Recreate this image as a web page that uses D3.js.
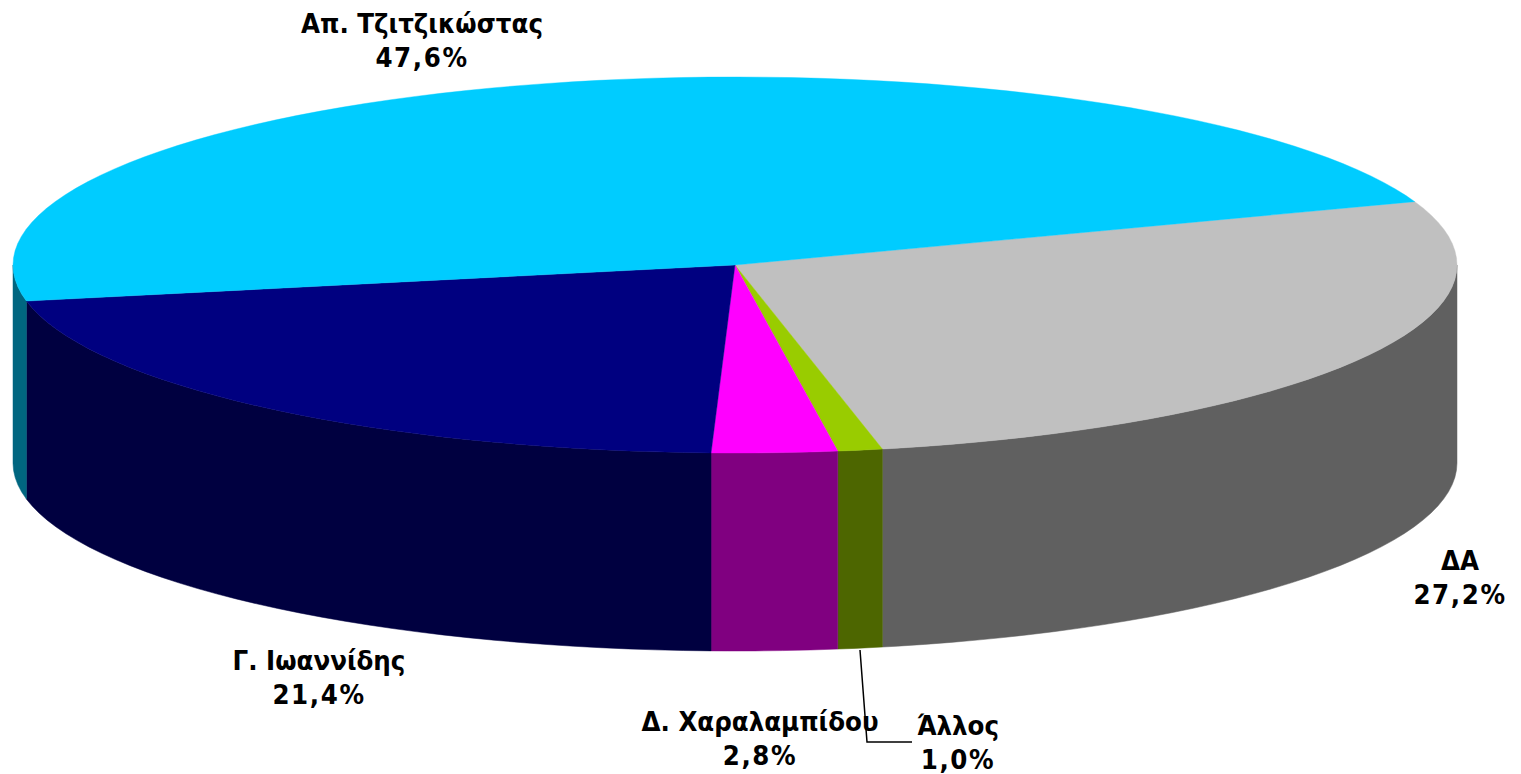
<!DOCTYPE html>
<html>
<head>
<meta charset="utf-8">
<script src="https://cdn.jsdelivr.net/npm/d3@7/dist/d3.min.js"></script>
<style>
html,body{margin:0;padding:0;background:#fff;overflow:hidden}
text{font-family:"DejaVu Sans Condensed","DejaVu Sans",Verdana,sans-serif;font-stretch:condensed;font-weight:700;font-size:27.3px;fill:#000;text-anchor:middle}
text.pct{letter-spacing:1.6px}
</style>
</head>
<body>
<svg id="chart" width="1521" height="774"></svg>
<script>
const categories = ["ΔΑ", "Άλλος", "Δ. Χαραλαμπίδου", "Γ. Ιωαννίδης", "Απ. Τζιτζικώστας"];
const values = [27.2, 1.0, 2.8, 21.4, 47.6];
const topColors = ["#C0C0C0", "#99CC00", "#FF00FF", "#000080", "#00CCFF"];
const wallColors = ["#606060", "#4D6600", "#800080", "#000040", "#006680"];

const W = 1521, H = 774;
const cx = 735, cy = 265, rx = 722, ry = 188, depth = 198;
const startDeg = 70.3;
const labelAnchors = [[1460, 570], [958, 735], [760, 731], [319, 670], [422, 33]];
const lineGap = 34;

const rad = d => d * Math.PI / 180;
const svg = d3.select("#chart");
const pie = d3.pie().sort(null).value(d => d)
  .startAngle(rad(startDeg)).endAngle(rad(startDeg + 360));
const arcs = pie(values);

const px = a => cx + rx * Math.sin(a);
const py = a => cy - ry * Math.cos(a);
const line = d3.line();
const step = rad(2.2);

function samples(a0, a1) {
  const pts = d3.range(a0, a1, step);
  pts.push(a1);
  return pts;
}

// walls: only the front half of the rim is visible (90°..270° clockwise from north)
const frontA = rad(90), frontB = rad(270);
const wallG = svg.append("g");
arcs.forEach((d, i) => {
  [0, 2 * Math.PI].forEach(off => {
    const a0 = Math.max(d.startAngle - off, frontA);
    const a1 = Math.min(d.endAngle - off, frontB);
    if (a1 <= a0) return;
    const s = samples(a0, a1);
    const pts = s.map(a => [px(a), py(a)])
      .concat(s.slice().reverse().map(a => [px(a), py(a) + depth]));
    wallG.append("path").attr("d", line(pts) + "Z")
      .attr("fill", wallColors[i]).attr("stroke", wallColors[i]).attr("stroke-width", 0.5);
  });
});

// top face
const topG = svg.append("g");
arcs.forEach((d, i) => {
  const pts = [[cx, cy]].concat(samples(d.startAngle, d.endAngle).map(a => [px(a), py(a)]));
  topG.append("path").attr("d", line(pts) + "Z")
    .attr("fill", topColors[i]).attr("stroke", topColors[i]).attr("stroke-width", 0.4);
});

// labels
const fmt = v => v.toFixed(1).replace(".", ",") + "%";
const labG = svg.append("g");
categories.forEach((c, i) => {
  const [x, y] = labelAnchors[i];
  labG.append("text").attr("x", x).attr("y", y).text(c);
  labG.append("text").attr("class", "pct").attr("x", x).attr("y", y + lineGap).text(fmt(values[i]));
});

// leader line for the small slice
svg.append("path")
  .attr("d", line([[860, 650], [867, 742], [912, 742]]))
  .attr("fill", "none").attr("stroke", "#000").attr("stroke-width", 1.5);
</script>
</body>
</html>
